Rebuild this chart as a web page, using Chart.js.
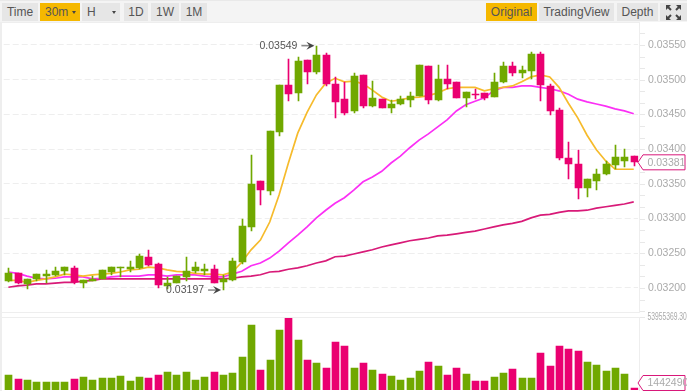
<!DOCTYPE html>
<html>
<head>
<meta charset="utf-8">
<script src="https://cdn.jsdelivr.net/npm/chart.js@4"></script>
<style>
html, body { margin: 0; padding: 0; background: #fff; overflow: hidden; }
body { width: 687px; height: 391px; position: relative; font-family: "Liberation Sans", Arial, sans-serif; }
#toolbar { position: absolute; left: 0; top: 0; width: 687px; height: 22px; background: #f4f4f4; border-top: 1px solid #e9e9e9; box-sizing: border-box; }
.btn { position: absolute; top: 2px; height: 18px; line-height: 18px; background: #e6e6e6; color: #555; font-size: 12px; text-align: center; }
.btn.on { background: #f5b800; }
.caret { position: absolute; top: 8px; width: 0; height: 0; border-left: 2.5px solid transparent; border-right: 2.5px solid transparent; border-top: 3px solid #444; }
#leftbar { position: absolute; left: 0; top: 22px; width: 2px; height: 369px; background: #eee; }
.rule { position: absolute; left: 2px; width: 638px; height: 1px; background: #eee; }
canvas { position: absolute; left: 0; }
</style>
</head>
<body>
<div id="toolbar">
  <div class="btn" style="left:2px;width:36px">Time</div>
  <div class="btn on" style="left:40px;width:40px;text-align:left;text-indent:5px">30m<span class="caret" style="left:32px"></span></div>
  <div class="btn" style="left:82px;width:38px;text-align:left;text-indent:5px">H<span class="caret" style="left:30px"></span></div>
  <div class="btn" style="left:124px;width:24px">1D</div>
  <div class="btn" style="left:151px;width:28px">1W</div>
  <div class="btn" style="left:181px;width:26px">1M</div>
  <div class="btn on" style="left:486px;width:51px">Original</div>
  <div class="btn" style="left:539px;width:75px">TradingView</div>
  <div class="btn" style="left:617px;width:41px">Depth</div>
  <div class="btn" style="left:660px;width:27px">
    <svg width="17" height="17" style="position:absolute;left:5px;top:1px" fill="none" stroke="#444" stroke-width="2">
      <path d="M2 2l4 4M11 6l4-4M2 15l4-4M11 11l4 4"/>
      <path d="M1 1h5l-5 5zM16 1h-5l5 5zM1 16h5l-5-5zM16 16h-5l5-5z" fill="#444" stroke="none"/>
    </svg>
  </div>
</div>
<div id="leftbar"></div>
<div class="rule" style="top:22px"></div>
<div class="rule" style="top:312px"></div>
<div class="rule" style="top:317px"></div>
<canvas id="price_chart" width="687" height="290" style="top:22px"></canvas>
<canvas id="volume_chart" width="687" height="81" style="top:310px"></canvas>
<script>
var opens = [0.03210,0.03221,0.03206,0.03213,0.03217,0.03219,0.03224,0.03229,0.03207,0.03210,0.03213,0.03223,0.03229,0.03227,0.03229,0.03245,0.03234,0.03203,0.03207,0.03216,0.03224,0.03224,0.03227,0.03208,
    0.03211,0.03237,0.03288,0.03354,0.03340,0.03425,0.03492,0.03481,0.03528,0.03511,0.03536,0.03494,0.03472,0.03455,0.03507,0.03462,0.03472,0.03459,0.03465,0.03471,0.03477,0.03520,
    0.03471,0.03501,0.03497,0.03474,0.03480,0.03481,0.03475,0.03497,0.03520,0.03510,0.03513,0.03537,0.03491,0.03456,0.03387,0.03379,0.03344,0.03354,0.03364,0.03377,0.03383,0.03390];
var closes = [0.03221,0.03207,0.03213,0.03220,0.03220,0.03224,0.03230,0.03208,0.03211,0.03213,0.03226,0.03230,0.03230,0.03230,0.03246,0.03233,0.03204,0.03207,0.03217,0.03224,0.03230,0.03227,0.03207,0.03213,
    0.03239,0.03289,0.03350,0.03341,0.03426,0.03492,0.03479,0.03527,0.03511,0.03536,0.03494,0.03468,0.03452,0.03505,0.03462,0.03474,0.03459,0.03465,0.03472,0.03477,0.03521,0.03471,
    0.03501,0.03494,0.03474,0.03482,0.03479,0.03474,0.03497,0.03520,0.03510,0.03514,0.03537,0.03492,0.03455,0.03387,0.03379,0.03344,0.03357,0.03364,0.03379,0.03389,0.03389,0.03381];
var highs = [0.03229,0.03221,0.03213,0.03220,0.03226,0.03230,0.03230,0.03232,0.03211,0.03217,0.03226,0.03230,0.03230,0.03239,0.03249,0.03255,0.03236,0.03216,0.03217,0.03245,0.03237,0.03234,0.03233,0.03219,
    0.03243,0.03299,0.03391,0.03354,0.03426,0.03492,0.03530,0.03533,0.03528,0.03549,0.03538,0.03504,0.03497,0.03510,0.03507,0.03498,0.03472,0.03471,0.03477,0.03482,0.03521,0.03520,
    0.03521,0.03521,0.03497,0.03482,0.03487,0.03481,0.03510,0.03525,0.03525,0.03520,0.03540,0.03540,0.03494,0.03459,0.03410,0.03399,0.03357,0.03371,0.03383,0.03406,0.03400,0.03390];
var lows = [0.03208,0.03206,0.03198,0.03210,0.03207,0.03217,0.03219,0.03206,0.03200,0.03210,0.03213,0.03219,0.03216,0.03223,0.03227,0.03232,0.03200,0.03198,0.03207,0.03210,0.03221,0.03219,0.03207,0.03197,
    0.03210,0.03234,0.03282,0.03319,0.03334,0.03419,0.03469,0.03469,0.03494,0.03508,0.03491,0.03445,0.03449,0.03452,0.03459,0.03461,0.03459,0.03452,0.03464,0.03461,0.03477,0.03465,
    0.03469,0.03487,0.03474,0.03461,0.03472,0.03471,0.03475,0.03495,0.03505,0.03502,0.03501,0.03469,0.03449,0.03384,0.03357,0.03328,0.03331,0.03341,0.03363,0.03371,0.03374,0.03376];
var ma7 = [0.03211,0.03211,0.03208,0.03211,0.03213,0.03216,0.03220,0.03219,0.03217,0.03219,0.03220,0.03221,0.03223,0.03226,0.03227,0.03230,0.03229,0.03226,0.03224,0.03223,0.03221,0.03220,0.03220,0.03219,
    0.03223,0.03237,0.03255,0.03269,0.03295,0.03334,0.03380,0.03423,0.03453,0.03478,0.03495,0.03502,0.03497,0.03498,0.03494,0.03485,0.03475,0.03469,0.03471,0.03474,0.03475,0.03477,
    0.03481,0.03487,0.03489,0.03489,0.03489,0.03484,0.03487,0.03489,0.03491,0.03497,0.03504,0.03507,0.03504,0.03489,0.03466,0.03445,0.03420,0.03399,0.03383,0.03371,0.03371,0.03371];
var ma25 = [0.03223,0.03221,0.03217,0.03214,0.03213,0.03214,0.03216,0.03216,0.03216,0.03213,0.03214,0.03216,0.03217,0.03217,0.03217,0.03219,0.03219,0.03217,0.03219,0.03219,0.03219,0.03217,0.03216,0.03216,
    0.03220,0.03224,0.03232,0.03236,0.03243,0.03253,0.03265,0.03276,0.03288,0.03301,0.03312,0.03322,0.03330,0.03341,0.03353,0.03360,0.03368,0.03380,0.03390,0.03402,0.03413,0.03422,
    0.03432,0.03442,0.03455,0.03464,0.03469,0.03474,0.03484,0.03489,0.03489,0.03491,0.03491,0.03489,0.03487,0.03484,0.03479,0.03472,0.03468,0.03465,0.03462,0.03458,0.03455,0.03451];
var ma99 = [0.03201,0.03203,0.03204,0.03206,0.03206,0.03207,0.03208,0.03208,0.03210,0.03211,0.03213,0.03213,0.03213,0.03213,0.03213,0.03213,0.03213,0.03213,0.03213,0.03213,0.03213,0.03213,0.03213,0.03213,
    0.03214,0.03216,0.03217,0.03219,0.03223,0.03224,0.03227,0.03229,0.03232,0.03236,0.03239,0.03245,0.03246,0.03249,0.03252,0.03255,0.03259,0.03262,0.03265,0.03268,0.03270,0.03272,
    0.03275,0.03276,0.03278,0.03280,0.03282,0.03285,0.03288,0.03291,0.03293,0.03296,0.03301,0.03305,0.03306,0.03309,0.03311,0.03311,0.03312,0.03315,0.03317,0.03319,0.03321,0.03324];
var volumes = [11240000,8240000,7490000,6000000,6000000,6000000,6000000,8240000,9740000,7490000,8990000,8990000,10490000,6740000,9740000,8990000,11240000,13490000,11240000,13490000,7490000,9740000,13490000,11240000,
    12740000,24730000,48710000,14990000,22480000,44960000,53955369,37470000,22480000,20230000,16490000,35970000,32970000,16490000,20230000,14990000,11990000,10490000,7490000,8990000,14240000,20980000,
    17990000,11240000,16490000,11990000,6740000,6740000,9740000,12740000,15740000,8990000,8990000,27730000,17990000,32970000,30720000,29230000,20980000,18730000,14240000,16490000,11990000,1442490];
var yTicks = [0.032,0.0325,0.033,0.0335,0.034,0.0345,0.035,0.0355];
var categories = opens.map(function(v, i) { return i; });
var lastPrice = 0.03381, lastVolume = 1442490, maxVolume = 53955369.30;
var highMark = { index: 33, value: 0.03549 }, lowMark = { index: 23, value: 0.03197 };

var GREEN = '#70a800', PINK = '#ea0070', TEXT = '#aaaaaa', AXIS_W = 48.6, PAD_L = 3.73;

var barColors = opens.map(function(o, i) { return closes[i] < o ? PINK : GREEN; });

// keep the bars on whole pixels like the original
var snapBars = {
    id: 'snapBars',
    beforeDatasetsDraw: function(chart) {
        chart.data.datasets.forEach(function(ds, d) {
            if (ds.type !== 'bar') return;
            chart.getDatasetMeta(d).data.forEach(function(el) {
                el.x = Math.round(el.x) + 0.5;
                el.y = Math.round(el.y);
                el.base = Math.round(el.base);
                if (el.base === el.y) el.base = el.y + 1;
            });
        });
    }
};

function drawTag(ctx, y, label) {
    var top = y - 7.5, bottom = y + 7.5;
    ctx.beginPath();
    ctx.moveTo(638, y);
    ctx.lineTo(643, top);
    ctx.lineTo(685, top);
    ctx.lineTo(685, bottom);
    ctx.lineTo(643, bottom);
    ctx.closePath();
    ctx.fillStyle = '#fff';
    ctx.fill();
    ctx.strokeStyle = '#d8187a';
    ctx.lineWidth = 1;
    ctx.stroke();
    ctx.fillStyle = TEXT;
    ctx.font = '10.5px "Liberation Sans", Arial';
    ctx.textAlign = 'left';
    ctx.textBaseline = 'middle';
    ctx.fillText(label, 647.5, y + 0.5);
}

function drawMark(ctx, tipX, y, label) {
    ctx.fillStyle = '#555';
    ctx.font = '10.5px "Liberation Sans", Arial';
    ctx.textAlign = 'right';
    ctx.textBaseline = 'middle';
    ctx.fillText(label, tipX - 17, y);
    ctx.strokeStyle = '#888';
    ctx.lineWidth = 1.5;
    ctx.beginPath();
    ctx.moveTo(tipX - 13, y);
    ctx.lineTo(tipX - 4, y);
    ctx.stroke();
    ctx.fillStyle = '#444';
    ctx.beginPath();
    ctx.moveTo(tipX, y);
    ctx.lineTo(tipX - 8, y - 4);
    ctx.lineTo(tipX - 5, y);
    ctx.lineTo(tipX - 8, y + 4);
    ctx.closePath();
    ctx.fill();
}

var priceExtras = {
    id: 'priceExtras',
    afterDraw: function(chart) {
        var ctx = chart.ctx, x = chart.scales.x, y = chart.scales.y;
        ctx.save();
        ctx.fillStyle = '#eee';
        ctx.fillRect(639, 0, 1, chart.height);
        ctx.fillStyle = '#e8e8e8';
        for (var v = 0.0320 - 0.00016667 * 2; v < 0.0358; v += 0.00016667) {
            ctx.fillRect(640, Math.round(y.getPixelForValue(v)), 5, 1);
        }
        drawMark(ctx, x.getPixelForValue(highMark.index) - 2, y.getPixelForValue(highMark.value), highMark.value.toFixed(5));
        drawMark(ctx, x.getPixelForValue(lowMark.index) - 2, y.getPixelForValue(lowMark.value), lowMark.value.toFixed(5));
        drawTag(ctx, y.getPixelForValue(lastPrice), lastPrice.toFixed(5));
        ctx.restore();
    }
};

var volumeExtras = {
    id: 'volumeExtras',
    afterDraw: function(chart) {
        var ctx = chart.ctx, y = chart.scales.y;
        var topY = y.getPixelForValue(maxVolume) - 1;
        ctx.save();
        ctx.fillStyle = '#eee';
        ctx.fillRect(639, topY, 1, chart.height - topY);
        ctx.fillStyle = '#e8e8e8';
        ctx.fillRect(640, topY, 5, 1);
        // the max label is squeezed horizontally in the original
        ctx.save();
        ctx.translate(647.5, topY);
        ctx.scale(0.64, 1);
        ctx.fillStyle = TEXT;
        ctx.font = '10.5px "Liberation Sans", Arial';
        ctx.textAlign = 'left';
        ctx.textBaseline = 'middle';
        ctx.fillText(maxVolume.toFixed(2), 0, 0);
        ctx.restore();
        drawTag(ctx, y.getPixelForValue(0) - 7, String(lastVolume));
        ctx.restore();
    }
};

function lineSet(data, color) {
    return { type: 'line', data: data, borderColor: color, borderWidth: 1.7, pointRadius: 0, tension: 0, order: 2 };
}

new Chart(document.getElementById('price_chart').getContext('2d'), {
    type: 'bar',
    data: {
        labels: categories,
        datasets: [
            { type: 'bar', data: lows.map(function(l, i) { return [l, highs[i]]; }), backgroundColor: barColors, barThickness: 1, grouped: false, order: 1 },
            { type: 'bar', data: opens.map(function(o, i) { return [o, closes[i]]; }), backgroundColor: barColors, barThickness: 7, grouped: false, order: 0 },
            lineSet(ma7, '#f6bb2c'),
            lineSet(ma25, '#fb30f5'),
            lineSet(ma99, '#d81a78')
        ]
    },
    options: {
        responsive: false,
        animation: false,
        events: [],
        layout: { padding: { left: PAD_L, top: 0, right: 0, bottom: 0 } },
        plugins: { legend: { display: false }, title: { display: false }, tooltip: { enabled: false } },
        scales: {
            x: { display: false },
            y: {
                position: 'right',
                min: 0.031654,
                max: 0.035831,
                afterFit: function(scale) {
                    scale.width = AXIS_W;
                    scale.paddingTop = 0;
                    scale.paddingBottom = 0;
                },
                afterBuildTicks: function(scale) {
                    scale.ticks = yTicks.map(function(v) { return { value: v }; });
                },
                border: { display: false, dash: [6, 3] },
                grid: { color: '#eeeeee', lineWidth: 1, drawTicks: false },
                ticks: {
                    color: TEXT,
                    padding: 9.6,
                    font: { family: '"Liberation Sans", Arial', size: 10.5 },
                    callback: function(v) { return v.toFixed(5); }
                }
            }
        }
    },
    plugins: [snapBars, priceExtras]
});

new Chart(document.getElementById('volume_chart').getContext('2d'), {
    type: 'bar',
    data: {
        labels: categories,
        datasets: [{ type: 'bar', data: volumes, backgroundColor: barColors, barThickness: 7 }]
    },
    options: {
        responsive: false,
        animation: false,
        events: [],
        layout: { padding: { left: PAD_L, top: 8, right: 0, bottom: 1 } },
        plugins: { legend: { display: false }, title: { display: false }, tooltip: { enabled: false } },
        scales: {
            x: { display: false },
            y: {
                position: 'right',
                min: 0,
                max: maxVolume,
                afterFit: function(scale) { scale.width = AXIS_W; },
                border: { display: false },
                grid: { display: false },
                ticks: { display: false }
            }
        }
    },
    plugins: [snapBars, volumeExtras]
});
</script>
</body>
</html>
